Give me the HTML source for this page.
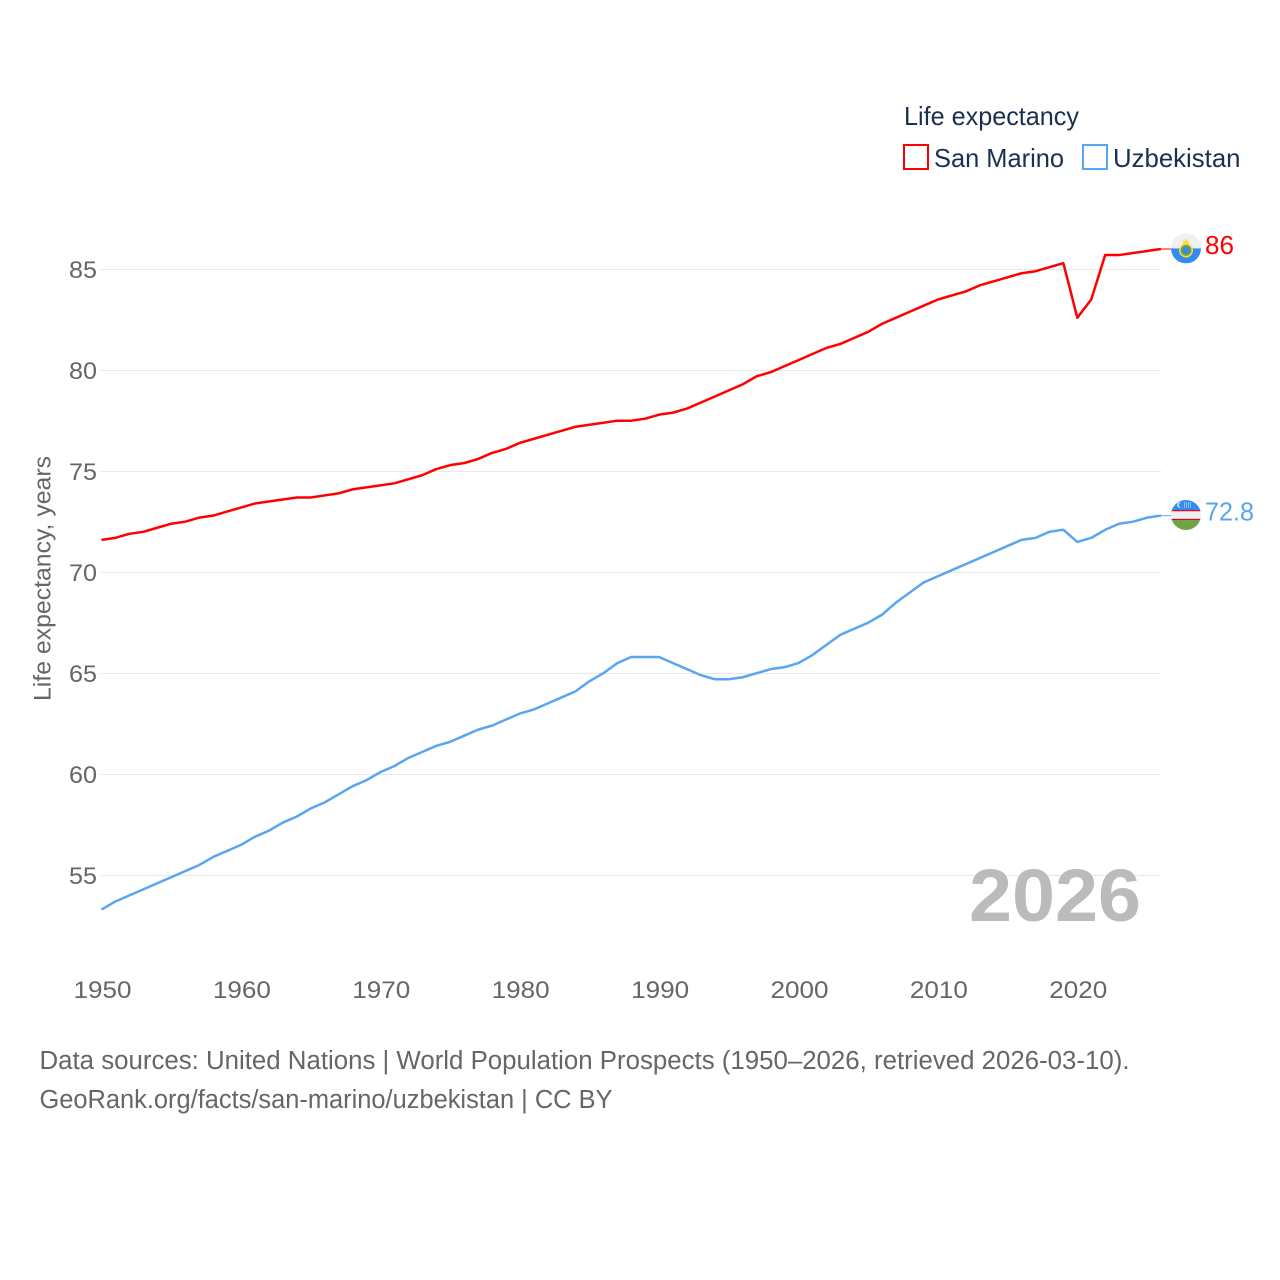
<!DOCTYPE html>
<html lang="en">
<head>
<meta charset="utf-8">
<title>Life expectancy: San Marino and Uzbekistan</title>
<style>
html,body{margin:0;padding:0;background:#fff;width:1280px;height:1280px;overflow:hidden}
svg{display:block}
text{font-family:"Liberation Sans",sans-serif}
</style>
</head>
<body>
<svg id="chart" width="1280" height="1280" viewBox="0 0 1280 1280" xmlns="http://www.w3.org/2000/svg">
  <defs>
    <clipPath id="flag-clip"><circle cx="0" cy="0" r="15"/></clipPath>
  </defs>
  <g id="grid"></g>
  <g id="y-ticks"></g>
  <g id="x-ticks"></g>
  <text transform="translate(50.500,701) rotate(-90)" font-size="24.500" fill="#666" textLength="245" lengthAdjust="spacingAndGlyphs">Life expectancy, years</text>
  <text id="year-label" x="969" y="921" font-size="74" font-weight="bold" fill="#bbbbbb" textLength="172" lengthAdjust="spacingAndGlyphs"></text>
  <g id="series"></g>

  <g id="flag-sm">
    <g clip-path="url(#flag-clip)">
      <rect x="-15" y="-15" width="30" height="15" fill="#f0f0f0"/>
      <rect x="-15" y="0" width="30" height="15" fill="#338af3"/>
      <path d="M-6.500 4L0 11L6.500 4Z" fill="#6da544"/>
      <circle cx="0" cy="2" r="7" fill="#ffda44"/>
      <circle cx="0" cy="2" r="5.500" fill="#6da544"/>
      <circle cx="0" cy="2" r="3.500" fill="#338af3"/>
      <path d="M-3-4V-8L-1.500-7L0-10.500L1.500-7L3-8V-4Z" fill="#ffda44"/>
    </g>
  </g>
  <g id="flag-uz">
    <g clip-path="url(#flag-clip)">
      <rect x="-15" y="-15" width="30" height="10" fill="#338af3"/>
      <rect x="-15" y="-4" width="30" height="8" fill="#f0f0f0"/>
      <rect x="-15" y="-5" width="30" height="1.200" fill="#d80027"/>
      <rect x="-15" y="3.800" width="30" height="1.200" fill="#d80027"/>
      <rect x="-15" y="5" width="30" height="10" fill="#6da544"/>
      <circle cx="-6" cy="-10" r="2.800" fill="#f0f0f0"/>
      <circle cx="-5" cy="-10" r="2.400" fill="#338af3"/>
      <path d="M-2-12h8M-2-10h8M-2-8h8" stroke="#f0f0f0" stroke-width="1" stroke-dasharray="1 1"/>
    </g>
  </g>

  <g>
    <text x="904" y="125" font-size="26" fill="#1a3050" textLength="175" lengthAdjust="spacingAndGlyphs">Life expectancy</text>
    <g>
      <rect x="904" y="145" width="24" height="24" fill="#fff" stroke="#ff0000" stroke-width="2"/>
      <text x="934" y="167" font-size="26" fill="#1a3050" textLength="130" lengthAdjust="spacingAndGlyphs">San Marino</text>
    </g>
    <g>
      <rect x="1083" y="145" width="24" height="24" fill="#fff" stroke="#5aa5f0" stroke-width="2"/>
      <text x="1113" y="167" font-size="26" fill="#1a3050" textLength="127.500" lengthAdjust="spacingAndGlyphs">Uzbekistan</text>
    </g>
  </g>

  <g>
    <text x="39.500" y="1069" font-size="25.500" fill="#666" textLength="1090" lengthAdjust="spacingAndGlyphs">Data sources: United Nations | World Population Prospects (1950–2026, retrieved 2026-03-10).</text>
    <text x="39.500" y="1108" font-size="25.500" fill="#666" textLength="573" lengthAdjust="spacingAndGlyphs">GeoRank.org/facts/san-marino/uzbekistan | CC BY</text>
  </g>
</svg>

<script>
var startYear = 1950;
var sanMarinoValues = [71.6,71.7,71.9,72.0,72.2,72.4,72.5,72.7,72.8,73.0,73.2,73.4,73.5,73.6,73.7,73.7,73.8,73.9,74.1,74.2,
  74.3,74.4,74.6,74.8,75.1,75.3,75.4,75.6,75.9,76.1,76.4,76.6,76.8,77.0,77.2,77.3,77.4,77.5,77.5,77.6,
  77.8,77.9,78.1,78.4,78.7,79.0,79.3,79.7,79.9,80.2,80.5,80.8,81.1,81.3,81.6,81.9,82.3,82.6,82.9,83.2,
  83.5,83.7,83.9,84.2,84.4,84.6,84.8,84.9,85.1,85.3,82.6,83.5,85.7,85.7,85.8,85.9,86.0];
var uzbekistanValues = [53.3,53.7,54.0,54.3,54.6,54.9,55.2,55.5,55.9,56.2,56.5,56.9,57.2,57.6,57.9,58.3,58.6,59.0,59.4,59.7,
  60.1,60.4,60.8,61.1,61.4,61.6,61.9,62.2,62.4,62.7,63.0,63.2,63.5,63.8,64.1,64.6,65.0,65.5,65.8,65.8,
  65.8,65.5,65.2,64.9,64.7,64.7,64.8,65.0,65.2,65.3,65.5,65.9,66.4,66.9,67.2,67.5,67.9,68.5,69.0,69.5,
  69.8,70.1,70.4,70.7,71.0,71.3,71.6,71.7,72.0,72.1,71.5,71.7,72.1,72.4,72.5,72.7,72.8];
var yTickValues = [55,60,65,70,75,80,85];
var xTickYears = [1950,1960,1970,1980,1990,2000,2010,2020];

var NS = 'http://www.w3.org/2000/svg';
function xScale(year){ return 101.5 + (year - 1950) * 13.94; }
function yScale(v){ return 269.2 + (85 - v) * 20.2; }
function make(tag, attrs, parent, txt){
  var el = document.createElementNS(NS, tag);
  for (var k in attrs) el.setAttribute(k, attrs[k]);
  if (txt !== undefined) el.textContent = txt;
  parent.appendChild(el);
  return el;
}

var gridG = document.getElementById('grid');
var yG = document.getElementById('y-ticks');
yTickValues.forEach(function(v){
  var gy = Math.floor(yScale(v)) + 0.5;
  var ln = make('line', {x1:101, x2:1161, y1:gy, y2:gy, stroke:'#e8e8e8', 'stroke-width':1}, gridG);
  
  
  var t = make('text', {x:97, y:gy+8.5, 'font-size':24.5, fill:'#666', 'text-anchor':'end', textLength:28, lengthAdjust:'spacingAndGlyphs'}, yG, String(v));
  
  
});

var xG = document.getElementById('x-ticks');
xTickYears.forEach(function(y){
  var t = make('text', {x:xScale(y)+1, y:998, 'font-size':24.5, fill:'#666', 'text-anchor':'middle', textLength:58, lengthAdjust:'spacingAndGlyphs'}, xG, String(y));
  
  
});

var seriesG = document.getElementById('series');
function drawSeries(values, color, lineName, connName, labelName, flagId, labelWidth){
  var pts = values.map(function(v, i){ return xScale(startYear + i).toFixed(2) + ',' + yScale(v).toFixed(2); });
  var lastIdx = values.length - 1;
  var last = values[lastIdx];
  var lx = xScale(startYear + lastIdx), ly = yScale(last);
  var line = make('polyline', {points:pts.join(' '), fill:'none', stroke:color, 'stroke-width':2.5, 'stroke-linejoin':'round'}, seriesG);
  
  
  var conn = make('line', {x1:lx, y1:ly, x2:lx+10, y2:ly, stroke:color, 'stroke-width':1}, seriesG);
  
  
  document.getElementById(flagId).setAttribute('transform', 'translate(1186,' + (ly - 0.6) + ')');
  var lab = make('text', {x:1205, y:ly + 4.8, 'font-size':26, fill:color, textLength:labelWidth, lengthAdjust:'spacingAndGlyphs'}, seriesG, String(last));
  
  
}
drawSeries(sanMarinoValues, '#ff0000', 'line-san-marino', 'connector-san-marino', 'end-label-san-marino', 'flag-sm', 29);
drawSeries(uzbekistanValues, '#5aa5f0', 'line-uzbekistan', 'connector-uzbekistan', 'end-label-uzbekistan', 'flag-uz', 49);

document.getElementById('year-label').textContent = String(startYear + sanMarinoValues.length - 1);
</script>
</body>
</html>
